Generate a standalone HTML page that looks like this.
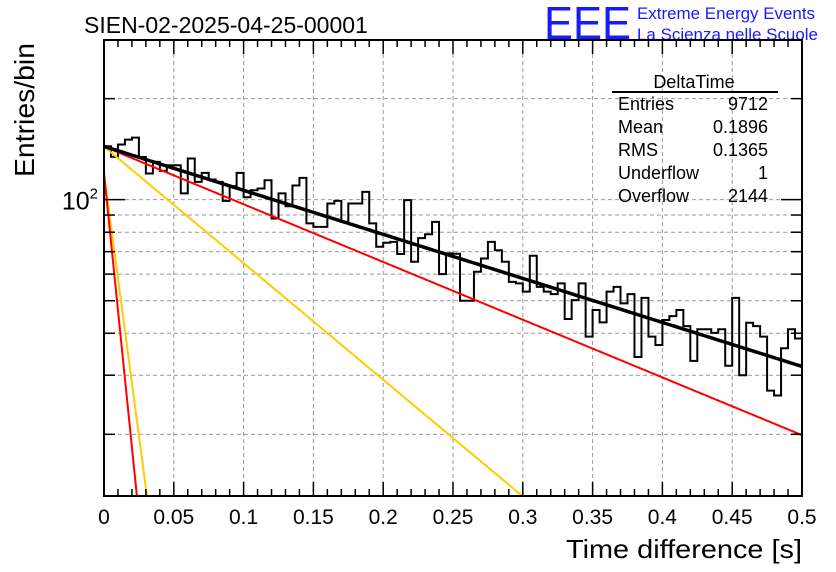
<!DOCTYPE html>
<html><head><meta charset="utf-8"><style>
html,body{margin:0;padding:0;background:#fff}
svg{display:block;font-family:"Liberation Sans",sans-serif}
</style></head><body>
<svg id="chart" width="836" height="572" viewBox="0 0 836 572" xmlns="http://www.w3.org/2000/svg">
<rect x="0" y="0" width="836" height="572" fill="#fff"/>
<text x="84" y="33" font-size="23" fill="#000">SIEN-02-2025-04-25-00001</text>
<text x="544" y="39" font-size="46" fill="#1a1aff" textLength="87" lengthAdjust="spacingAndGlyphs">EEE</text>
<text x="637" y="19" font-size="16.5" fill="#1a1aff" textLength="178" lengthAdjust="spacingAndGlyphs">Extreme Energy Events</text>
<text x="637" y="40" font-size="16.5" fill="#1a1aff" textLength="181" lengthAdjust="spacingAndGlyphs">La Scienza nelle Scuole</text>
<g id="grid"></g>
<g id="marks"></g>
<g id="axes"></g>
<g font-size="18">
<text x="694" y="88" text-anchor="middle">DeltaTime</text>
<line x1="612" y1="92" x2="778" y2="92" stroke="#000" stroke-width="2"/>
<text x="618" y="110">Entries</text><text x="768" y="110" text-anchor="end">9712</text>
<text x="618" y="133">Mean</text><text x="768" y="133" text-anchor="end">0.1896</text>
<text x="618" y="156">RMS</text><text x="768" y="156" text-anchor="end">0.1365</text>
<text x="618" y="179">Underflow</text><text x="768" y="179" text-anchor="end">1</text>
<text x="618" y="202">Overflow</text><text x="768" y="202" text-anchor="end">2144</text>
</g>
<text x="802" y="558" font-size="26" text-anchor="end" textLength="236" lengthAdjust="spacingAndGlyphs">Time difference [s]</text>
<text transform="translate(34,110) rotate(-90)" font-size="28" text-anchor="middle" textLength="134" lengthAdjust="spacingAndGlyphs">Entries/bin</text>
</svg>
<script>
const counts = [144.3,134.1,146,151,153,134,119.7,129.6,121.8,126.6,126.6,104.4,132.6,113,120.2,114.8,113,99.2,109.7,120.2,101.7,106.7,108,114.3,87.9,104.4,95.6,110.2,116.1,85,83,83,97.4,99.2,85.9,97.4,97.4,105.5,85,72.4,74.4,74.9,68.9,99.7,65.3,76.8,78.9,85.9,60,
69.2,69,50,50,61,66.8,74.9,70.7,65.3,56.9,56.3,53.2,68.1,55,53.2,52.3,56.3,44.1,50.2,56.3,39.1,46.9,43.1,53.2,55,49.1,52.3,34,51,39.1,36.9,43.8,45,46.9,42,33.1,41.1,41.1,40.1,41.1,32,51,30,43,42,39.1,27,26.1,36.1,41.1,38.6];
const xTicks = [0,0.05,0.1,0.15,0.2,0.25,0.3,0.35,0.4,0.45,0.5];
const xTickLabels = ["0","0.05","0.1","0.15","0.2","0.25","0.3","0.35","0.4","0.45","0.5"];
const yGridValues = [20,30,40,50,60,70,80,90,100,200];
const fitTotal = [144.2, 3.02];
const fitSlow = [144, 3.96];
const fitMid = [144, 8.0];
const fitFastA = [120, 94];
const fitFastB = [120, 72];
const X0=104,X1=802,Y0=40,Y1=496,XMIN=0,XMAX=0.5,YMIN=13.1,YMAX=299;
const NS="http://www.w3.org/2000/svg";
function sx(t){return X0+(t-XMIN)/(XMAX-XMIN)*(X1-X0);}
function sy(v){const l=Math.log10(v);return Y1-(l-Math.log10(YMIN))/(Math.log10(YMAX)-Math.log10(YMIN))*(Y1-Y0);}
function mk(tag,attrs,parent){const e=document.createElementNS(NS,tag);for(const k in attrs)e.setAttribute(k,attrs[k]);parent.appendChild(e);return e;}
const grid=document.getElementById('grid'),marks=document.getElementById('marks'),axes=document.getElementById('axes');
xTicks.forEach(t=>{if(t>XMIN&&t<XMAX){const l=mk('line',{x1:sx(t),x2:sx(t),y1:Y0,y2:Y1,stroke:'#999','stroke-dasharray':'4,3','stroke-width':1},grid);

}});
yGridValues.forEach(v=>{const l=mk('line',{x1:X0,x2:X1,y1:sy(v),y2:sy(v),stroke:'#999','stroke-dasharray':'4,3','stroke-width':1},grid);

});
const bw=(XMAX-XMIN)/counts.length;
let d='M'+sx(0)+','+sy(counts[0]);
counts.forEach((c,i)=>{d+=' L'+sx(i*bw)+','+sy(c)+' L'+sx((i+1)*bw)+','+sy(c);});
const cp=mk('clipPath',{id:'pc'},marks);mk('rect',{x:X0,y:Y0,width:X1-X0,height:Y1-Y0},cp);
const h=mk('path',{d:d,fill:'none',stroke:'#000','stroke-width':2,'clip-path':'url(#pc)'},marks);


function curve(p,color,w){let s='';for(let i=0;i<=600;i++){const t=XMIN+(XMAX-XMIN)*i/600;const v=p[0]*Math.exp(-p[1]*t);if(v<YMIN*0.9)break;s+=(s?' L':'M')+sx(t).toFixed(2)+','+sy(v).toFixed(2);}
return mk('path',{d:s,fill:'none',stroke:color,'stroke-width':w,'clip-path':'url(#pc)'},marks);}
let c;
c=curve(fitFastB,'#ffcc00',2);
c=curve(fitMid,'#ffcc00',2);
c=curve(fitFastA,'#ff0000',2);
c=curve(fitSlow,'#ff0000',2);
c=curve(fitTotal,'#000',3.5);
const fr=mk('rect',{x:X0,y:Y0,width:X1-X0,height:Y1-Y0,fill:'none',stroke:'#000','stroke-width':2},axes);


for(let i=0;i<=50;i++){const t=i*0.01;const major=i%5===0;const L=major?14:7;
mk('line',{x1:sx(t),x2:sx(t),y1:Y1,y2:Y1-L,stroke:'#000','stroke-width':1.5},axes);
mk('line',{x1:sx(t),x2:sx(t),y1:Y0,y2:Y0+L,stroke:'#000','stroke-width':1.5},axes);}
xTicks.forEach((t,i)=>{const tx=mk('text',{x:sx(t),y:524,'font-size':21,'text-anchor':'middle'},axes);tx.textContent=xTickLabels[i];

});
yGridValues.forEach(v=>{const L=(v===100)?21:11;
mk('line',{x1:X0,x2:X0+L,y1:sy(v),y2:sy(v),stroke:'#000','stroke-width':1.5},axes);
mk('line',{x1:X1,x2:X1-L,y1:sy(v),y2:sy(v),stroke:'#000','stroke-width':1.5},axes);});
const yl=mk('text',{x:98,y:sy(100)+10,'font-size':25,'text-anchor':'end'},axes);
yl.innerHTML='10<tspan font-size="15" dy="-11">2</tspan>';


</script>
</body></html>
